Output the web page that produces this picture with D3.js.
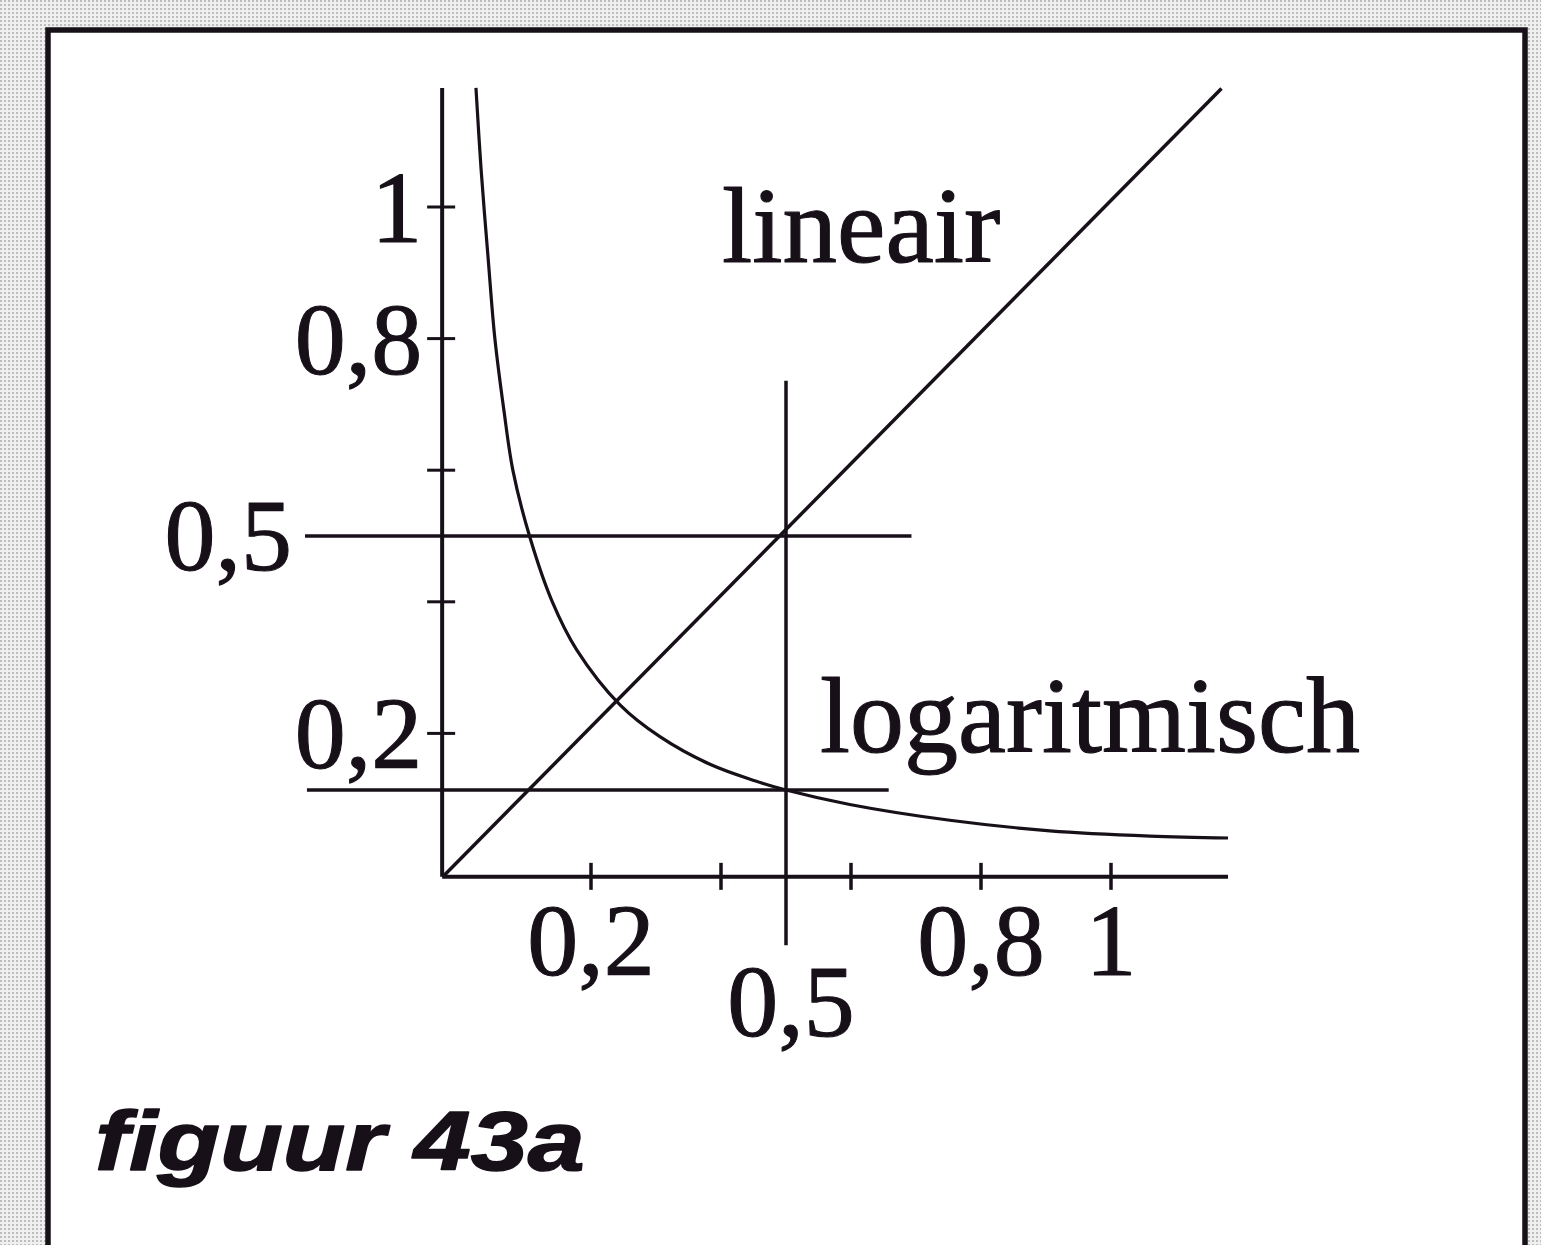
<!DOCTYPE html>
<html>
<head>
<meta charset="utf-8">
<script src="https://cdn.jsdelivr.net/npm/d3@7"></script>
<style>
  html, body { margin: 0; padding: 0; background: #ffffff; }
  svg { display: block; }
</style>
</head>
<body>
<div id="chart"></div>
<script>
// Linear response: a straight line through the origin
const linearX = [-0.028, 1.17];
const linearY = [-0.018, 1.18];

// Logarithmic response: steep fall near zero, flattening towards x = 1
const logX = [0.023, 0.031, 0.042, 0.052, 0.066, 0.080, 0.106, 0.140, 0.178, 0.245, 0.306, 0.383, 0.452, 0.500, 0.598, 0.752, 0.906, 1.060, 1.180];
const logY = [1.181, 1.056, 0.919, 0.801, 0.691, 0.599, 0.498, 0.401, 0.327, 0.243, 0.195, 0.153, 0.128, 0.114, 0.092, 0.068, 0.052, 0.044, 0.041];

// Axis ticks and their labels
const xTicks = [0.2, 0.4, 0.6, 0.8, 1];
const xTickLabels = ["0,2", "", "", "0,8", "1"];
const yTicks = [1, 0.8, 0.6, 0.4, 0.2];
const yTickLabels = ["1", "0,8", "", "", "0,2"];

// Guide lines at x = 0.5: where each response reads off
const guideX = 0.5;
const guideLevels = [0.5, 0.114];
const guideLabels = ["0,5", "0,5"];

const seriesNames = ["lineair", "logaritmisch"];
const caption = "figuur 43a";

const W = 1541, H = 1245;
const ink = "#171019";

const svg = d3.select("#chart").append("svg")
  .attr("width", W).attr("height", H);

// dotted grey surround
const defs = svg.append("defs");
const pat = defs.append("pattern")
  .attr("id", "dots").attr("width", 4).attr("height", 4)
  .attr("patternUnits", "userSpaceOnUse");
pat.append("rect").attr("width", 4).attr("height", 4).attr("fill", "#efefef");
pat.append("rect").attr("x", 0).attr("y", 0).attr("width", 2).attr("height", 2).attr("fill", "#bdbdbd");
svg.append("rect").attr("width", W).attr("height", H).attr("fill", "url(#dots)");

// white panel with heavy border (open at the bottom)
svg.append("rect").attr("x", 48).attr("y", 30).attr("width", 1477).attr("height", H)
  .attr("fill", "#ffffff");
svg.append("path")
  .attr("d", `M48,${H + 5} L48,30 L1525,30 L1525,${H + 5}`)
  .attr("fill", "none").attr("stroke", ink).attr("stroke-width", 5.5);

const x = d3.scaleLinear().domain([0, 1]).range([461, 1111]);
const y = d3.scaleLinear().domain([0, 1]).range([865, 207]);

const axisX0 = -0.029, axisY0 = -0.018;
const axisXMax = 1.18, axisYMax = 1.181;

const g = svg.append("g");
const serif = "'Liberation Serif', 'Times New Roman', serif";

// serif labels get a thin outline so they print as heavily as the lines
function serifText(sel, size) {
  return sel.attr("font-family", serif).attr("font-size", size)
    .attr("fill", ink).attr("stroke", ink).attr("stroke-width", 1.1)
    .attr("stroke-linejoin", "round");
}

// axes
g.append("line")
  .attr("x1", x(axisX0)).attr("x2", x(axisX0))
  .attr("y1", y(axisY0)).attr("y2", y(axisYMax))
  .attr("stroke", ink).attr("stroke-width", 4);
g.append("line")
  .attr("x1", x(axisX0)).attr("x2", x(axisXMax))
  .attr("y1", y(axisY0)).attr("y2", y(axisY0))
  .attr("stroke", ink).attr("stroke-width", 4);

// y ticks cross the axis
g.selectAll(".ytick").data(yTicks).join("line")
  .attr("x1", x(axisX0) - 15).attr("x2", x(axisX0) + 13)
  .attr("y1", d => y(d)).attr("y2", d => y(d))
  .attr("stroke", ink).attr("stroke-width", 3);
serifText(g.selectAll(".ylab").data(yTicks).join("text"), 102)
  .attr("x", x(axisX0) - 20)
  .attr("y", d => y(d) + 35)
  .attr("text-anchor", "end")
  .text((d, i) => yTickLabels[i]);

// x ticks cross the axis
g.selectAll(".xtick").data(xTicks).join("line")
  .attr("x1", d => x(d)).attr("x2", d => x(d))
  .attr("y1", y(axisY0) - 14).attr("y2", y(axisY0) + 13)
  .attr("stroke", ink).attr("stroke-width", 3.5);
serifText(g.selectAll(".xlab").data(xTicks).join("text"), 102)
  .attr("x", d => x(d))
  .attr("y", 975)
  .attr("text-anchor", "middle")
  .text((d, i) => xTickLabels[i]);

// guide lines
g.append("line")
  .attr("x1", x(-0.24)).attr("x2", x(0.693))
  .attr("y1", y(guideLevels[0])).attr("y2", y(guideLevels[0]))
  .attr("stroke", ink).attr("stroke-width", 3.5);
g.append("line")
  .attr("x1", x(-0.237)).attr("x2", x(0.658))
  .attr("y1", y(guideLevels[1])).attr("y2", y(guideLevels[1]))
  .attr("stroke", ink).attr("stroke-width", 3.5);
g.append("line")
  .attr("x1", x(guideX)).attr("x2", x(guideX))
  .attr("y1", y(0.736)).attr("y2", y(-0.122))
  .attr("stroke", ink).attr("stroke-width", 3.5);

// guide labels
serifText(g.append("text"), 102)
  .attr("x", x(-0.26)).attr("y", y(guideLevels[0]) + 34)
  .attr("text-anchor", "end")
  .text(guideLabels[0]);
serifText(g.append("text"), 102)
  .attr("x", x(guideX) + 5).attr("y", 1036)
  .attr("text-anchor", "middle")
  .text(guideLabels[1]);

// series
g.append("path")
  .datum(d3.zip(linearX, linearY))
  .attr("d", d3.line().x(d => x(d[0])).y(d => y(d[1])))
  .attr("fill", "none").attr("stroke", ink).attr("stroke-width", 3.5);
g.append("path")
  .datum(d3.zip(logX, logY))
  .attr("d", d3.line().x(d => x(d[0])).y(d => y(d[1])).curve(d3.curveCatmullRom.alpha(0.5)))
  .attr("fill", "none").attr("stroke", ink).attr("stroke-width", 3.2);

// series labels
serifText(g.append("text"), 109)
  .attr("x", 722).attr("y", 262)
  .text(seriesNames[0]);
serifText(g.append("text"), 108)
  .attr("x", 820).attr("y", 752)
  .text(seriesNames[1]);

// caption
svg.append("text")
  .attr("transform", "translate(95,1170) scale(1.22,1)")
  .attr("font-family", "'Liberation Sans', Arial, sans-serif")
  .attr("font-weight", "bold").attr("font-style", "italic")
  .attr("font-size", 84).attr("fill", ink)
  .attr("stroke", ink).attr("stroke-width", 1.5).attr("stroke-linejoin", "round")
  .text(caption);
</script>
</body>
</html>
